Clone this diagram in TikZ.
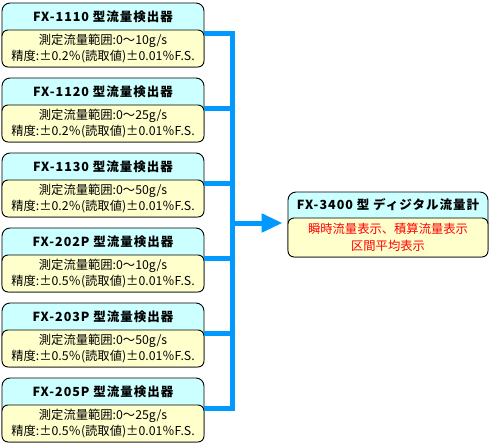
\documentclass[tikz,border=0pt]{standalone}
\usepackage{fontspec}
\setmainfont{Noto Sans CJK JP}
\usetikzlibrary{arrows.meta}
\definecolor{headcyan}{HTML}{CCFFFF}
\definecolor{bodyyellow}{HTML}{FFFFCC}
\definecolor{busblue}{HTML}{0099FF}

\begin{document}
\begin{tikzpicture}[x=1pt, y=-1pt,
  card/.style={draw, fill=headcyan, rounded corners=8pt, line width=0.9pt,
               minimum width=202pt, minimum height=64pt, inner sep=0pt},
  body/.style={draw, fill=bodyyellow, rounded corners=6pt, line width=0.9pt,
               minimum width=202pt, minimum height=37pt, inner sep=0pt,
               align=center, font=\fontsize{12.3}{16.5}\selectfont},
  head/.style={font=\bfseries\fontsize{12.5}{14}\selectfont\addfontfeature{LetterSpace=8},
               inner sep=0pt},
  bus/.style={draw=busblue, line width=5pt},
  arr/.style={busblue, line width=5pt, -{Triangle[length=21pt, width=18pt]}, shorten >=5pt}
]
  \useasboundingbox (0,0) rectangle (493,447);

  \foreach \k/\m/\r/\a in {0/1110/10/0.2, 1/1120/25/0.2, 2/1130/50/0.2,
                           3/202P/10/0.5, 4/203P/50/0.5, 5/205P/25/0.5} {
    \node[card] (b\k) at (103,{35+75*\k}) {};
    \node[head] (h\k) at ([yshift=-14pt]b\k.north) {FX-\m\ 型流量検出器};
    \node[body, anchor=south] (s\k) at (b\k.south)
      {測定流量範囲:0〜\r g/s\\精度:±\a ％(読取値)±0.01％F.S.};
    \coordinate (j\k) at ([yshift=-30.5pt]b\k.north east);
  }

  \node[card, minimum width=200pt, minimum height=65pt] (rb) at (388,224.5) {};
  \node[head] (rh) at ([yshift=-13pt]rb.north) {FX-3400 型 ディジタル流量計};
  \node[body, minimum width=200pt, minimum height=39pt, anchor=south, text=red] (rs)
    at (rb.south) {瞬時流量表示、積算流量表示\\区間平均表示};

  \coordinate (tap) at (232.5,223);
  \draw[bus] (j0) -- (j0 -| tap) -- (j5 -| tap) -- (j5);
  \foreach \k in {1,...,4}
    \draw[bus] (j\k) -- (j\k -| tap);
  \draw[arr] (tap) -- (tap -| rb.west);
\end{tikzpicture}
\end{document}
